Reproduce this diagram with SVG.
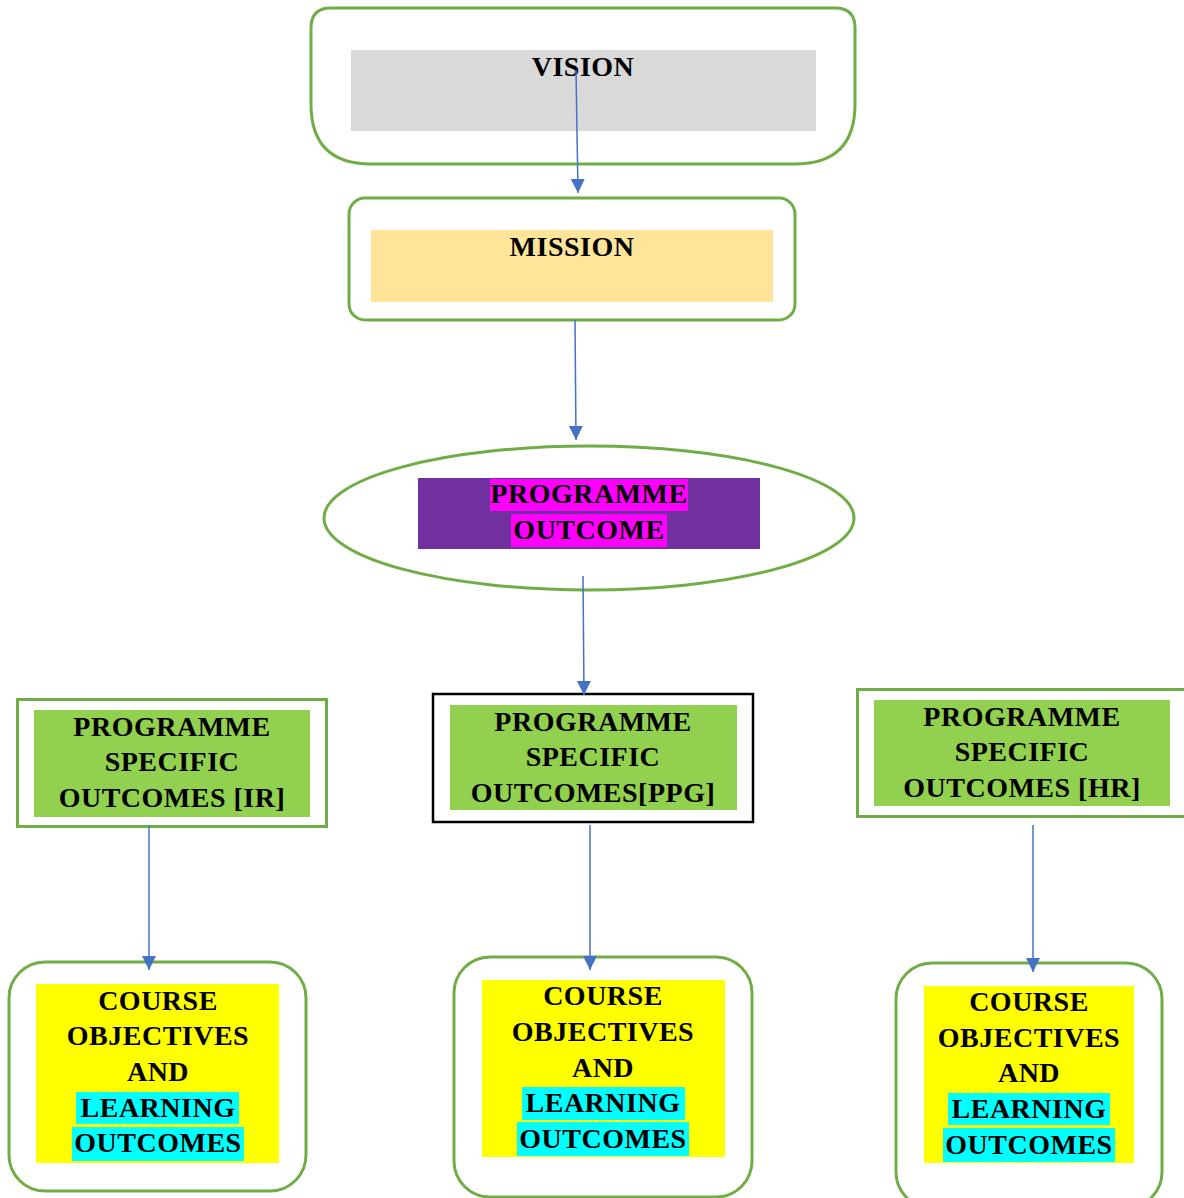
<svg xmlns="http://www.w3.org/2000/svg" width="1184" height="1198" viewBox="0 0 1184 1198">
<defs>
<style>
.g{fill:#fff;stroke:#70AD47;stroke-width:3}
.t{font-family:"Liberation Serif","Times New Roman",serif;font-weight:bold;font-size:28px;letter-spacing:0.5px;fill:#000;text-anchor:middle}
.c{stroke:#4472C4;stroke-width:1.5;fill:none;marker-end:url(#ah)}
.psoin{fill:#92D050}
.yel{fill:#FFFF00}
.cy{fill:#00FFFF}
</style>
<marker id="ah" markerUnits="userSpaceOnUse" markerWidth="16" markerHeight="16" refX="14" refY="7" orient="auto">
<path d="M0,0 L14,7 L0,14 Z" fill="#4472C4"/>
</marker>
</defs>
<rect width="1184" height="1198" fill="#fff"/>

<g id="vision">
<path class="g" d="M331,8 H835 Q855,8 855,28 V104 Q855,164 795,164 H371 Q311,164 311,104 V28 Q311,8 331,8 Z"/>
<rect x="351" y="50" width="465" height="81" fill="#D9D9D9"/>
<text class="t" x="583" y="76">VISION</text>
</g>

<g id="mission">
<rect class="g" x="349" y="198" width="446" height="122" rx="16"/>
<rect x="371" y="230" width="402" height="72" fill="#FFE599"/>
<text class="t" x="572" y="256">MISSION</text>
</g>

<g id="po">
<ellipse class="g" cx="589" cy="518" rx="265" ry="72"/>
<rect x="418" y="478" width="342" height="71" fill="#7030A0"/>
<rect x="490" y="479" width="198" height="32" fill="#FF00FF"/>
<rect x="511" y="514" width="156" height="33" fill="#FF00FF"/>
<text class="t" x="589" y="503">PROGRAMME</text>
<text class="t" x="589" y="539">OUTCOME</text>
</g>

<g id="pso-ir">
<rect class="g" x="17.5" y="699.5" width="309" height="127"/>
<rect class="psoin" x="34" y="710" width="276" height="107"/>
<text class="t" x="172" y="736">PROGRAMME</text>
<text class="t" x="172" y="771">SPECIFIC</text>
<text class="t" x="172" y="807">OUTCOMES [IR]</text>
</g>

<g id="pso-ppg">
<rect x="433" y="694" width="320" height="128" fill="#fff" stroke="#000" stroke-width="2.5"/>
<rect class="psoin" x="450" y="705" width="287" height="105"/>
<text class="t" x="593" y="731">PROGRAMME</text>
<text class="t" x="593" y="766">SPECIFIC</text>
<text class="t" x="593" y="802">OUTCOMES[PPG]</text>
</g>

<g id="pso-hr">
<rect class="g" x="857.5" y="689.5" width="330" height="127"/>
<rect class="psoin" x="874" y="700" width="296" height="106"/>
<text class="t" x="1022" y="726">PROGRAMME</text>
<text class="t" x="1022" y="761">SPECIFIC</text>
<text class="t" x="1022" y="797">OUTCOMES [HR]</text>
</g>

<g id="course-ir">
<rect class="g" x="9" y="962" width="297" height="229" rx="36"/>
<rect class="yel" x="36" y="984" width="243" height="179"/>
<rect class="cy" x="76" y="1092" width="163" height="32"/>
<rect class="cy" x="72" y="1127" width="172" height="34"/>
<text class="t" x="158" y="1010">COURSE</text>
<text class="t" x="158" y="1045">OBJECTIVES</text>
<text class="t" x="158" y="1081">AND</text>
<text class="t" x="158" y="1117">LEARNING</text>
<text class="t" x="158" y="1152">OUTCOMES</text>
</g>

<g id="course-ppg">
<rect class="g" x="454" y="957" width="298" height="240" rx="36"/>
<rect class="yel" x="482" y="980" width="243" height="177"/>
<rect class="cy" x="522" y="1087" width="163" height="33"/>
<rect class="cy" x="517" y="1122" width="172" height="34"/>
<text class="t" x="603" y="1005">COURSE</text>
<text class="t" x="603" y="1041">OBJECTIVES</text>
<text class="t" x="603" y="1077">AND</text>
<text class="t" x="603" y="1112">LEARNING</text>
<text class="t" x="603" y="1148">OUTCOMES</text>
</g>

<g id="course-hr">
<rect class="g" x="896" y="963" width="266" height="245" rx="36"/>
<rect class="yel" x="924" y="986" width="210" height="177"/>
<rect class="cy" x="948" y="1093" width="162" height="32"/>
<rect class="cy" x="943" y="1128" width="172" height="34"/>
<text class="t" x="1029" y="1011">COURSE</text>
<text class="t" x="1029" y="1047">OBJECTIVES</text>
<text class="t" x="1029" y="1082">AND</text>
<text class="t" x="1029" y="1118">LEARNING</text>
<text class="t" x="1029" y="1154">OUTCOMES</text>
</g>

<g id="connectors">
<line class="c" x1="576" y1="70" x2="578" y2="193"/>
<line class="c" x1="575" y1="320" x2="576" y2="440"/>
<line class="c" x1="583" y1="576" x2="584" y2="695"/>
<line class="c" x1="149" y1="825" x2="149" y2="970"/>
<line class="c" x1="590" y1="825" x2="590" y2="970"/>
<line class="c" x1="1033" y1="825" x2="1033" y2="972"/>
</g>
</svg>
